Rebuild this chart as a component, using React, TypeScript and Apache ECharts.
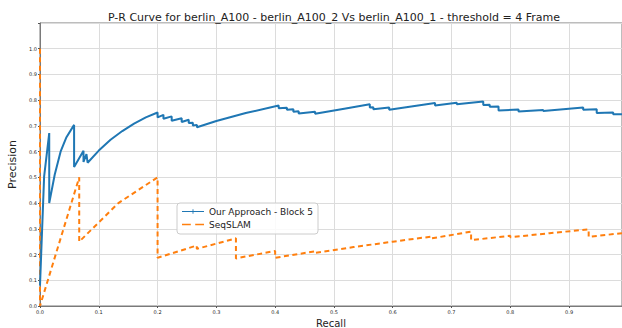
import React, { useEffect, useRef } from "react";
import * as echarts from "echarts";

const titleText = "P-R Curve for berlin_A100 - berlin_A100_2 Vs berlin_A100_1 - threshold = 4 Frame";
const seriesNames = ["Our Approach - Block 5", "SeqSLAM"];

const oursRecall = [
  0, 0.007, 0.0157, 0.0157, 0.025, 0.035, 0.045, 0.058, 0.058, 0.074, 0.074, 0.079, 0.081,
  0.1, 0.12, 0.14, 0.16, 0.18, 0.2, 0.2, 0.21, 0.21, 0.224, 0.224, 0.241, 0.241, 0.253, 0.253,
  0.26, 0.26, 0.267, 0.267, 0.3, 0.35, 0.406, 0.406, 0.42, 0.42, 0.431, 0.431, 0.44, 0.44,
  0.468, 0.468, 0.52, 0.561, 0.561, 0.567, 0.567, 0.594, 0.594, 0.672, 0.672, 0.709, 0.709,
  0.754, 0.754, 0.765, 0.765, 0.78, 0.78, 0.814, 0.814, 0.856, 0.856, 0.924, 0.924, 0.947,
  0.947, 0.975, 0.975, 0.99,
];
const oursPrecision = [
  0.08, 0.503, 0.672, 0.4, 0.51, 0.6, 0.656, 0.704, 0.54, 0.603, 0.56, 0.59, 0.557,
  0.604, 0.646, 0.68, 0.709, 0.733, 0.752, 0.733, 0.743, 0.728, 0.737, 0.72, 0.73, 0.715, 0.724, 0.711,
  0.712, 0.702, 0.704, 0.695, 0.719, 0.75, 0.779, 0.769, 0.771, 0.763, 0.765, 0.755, 0.757, 0.748,
  0.755, 0.747, 0.768, 0.784, 0.772, 0.773, 0.765, 0.772, 0.763, 0.789, 0.779, 0.79, 0.784,
  0.795, 0.781, 0.782, 0.774, 0.775, 0.76, 0.764, 0.756, 0.762, 0.758, 0.772, 0.763, 0.765,
  0.75, 0.752, 0.745, 0.745,
];

const seqRecall = [
  0, 0, 0.0667, 0.0667, 0.1333, 0.2, 0.2, 0.2667, 0.2667, 0.3333, 0.3333, 0.4, 0.4,
  0.4667, 0.4667, 0.5333, 0.6, 0.6667, 0.6667, 0.7333, 0.7333, 0.8, 0.8, 0.8667, 0.9333, 0.9333, 0.99,
];
const seqPrecision = [
  1.0, 0, 0.5, 0.25, 0.4, 0.5, 0.1875, 0.235, 0.222, 0.263, 0.185, 0.214, 0.1875,
  0.212, 0.206, 0.229, 0.25, 0.27, 0.263, 0.289, 0.256, 0.273, 0.267, 0.283, 0.298, 0.269, 0.283,
];

const yTicks = ["0.0", "0.1", "0.2", "0.3", "0.4", "0.5", "0.6", "0.7", "0.8", "0.9", "1.0"];
const xTicks = ["0.0", "0.1", "0.2", "0.3", "0.4", "0.5", "0.6", "0.7", "0.8", "0.9"];

const FONT = "DejaVu Sans";

function tickFmt(list: string[]) {
  return (v: number) => {
    const s = v.toFixed(1);
    return Math.abs(v * 10 - Math.round(v * 10)) < 1e-6 && list.includes(s) ? s : "";
  };
}

export default function App() {
  const ref = useRef<HTMLDivElement>(null);
  useEffect(() => {
    if (!ref.current) return;
    const chart = echarts.init(ref.current, undefined, { renderer: "svg" });
    const ours = oursRecall.map((r, i) => [r, oursPrecision[i]]);
    const seq = seqRecall.map((r, i) => [r, seqPrecision[i]]);
    chart.setOption({
      animation: false,
      backgroundColor: "#ffffff",
      title: {
        text: titleText,
        left: 329,
        textAlign: "center",
        top: 7,
        textStyle: { fontFamily: FONT, fontSize: 11, fontWeight: "normal", color: "#222" },
      },
      grid: {
        left: 40,
        right: 0,
        top: 23,
        bottom: 22,
        show: true,
        borderColor: "#7a7a7a",
        borderWidth: 1,
        backgroundColor: "#ffffff",
        outerBoundsMode: "none",
        containLabel: false,
      },
      legend: {
        left: 177,
        top: 203,
        orient: "vertical",
        itemGap: 4,
        itemWidth: 22,
        itemHeight: 8,
        padding: [4, 5, 5, 5],
        backgroundColor: "rgba(255,255,255,0.85)",
        borderColor: "#cccccc",
        borderWidth: 1,
        borderRadius: 3,
        textStyle: { fontFamily: FONT, fontSize: 9, color: "#222" },
        data: [
          {
            name: seriesNames[0],
            icon: "path://M0,3.4L30,3.4L30,4.6L0,4.6Z M14.4,1L15.6,1L15.6,7L14.4,7Z",
          },
          {
            name: seriesNames[1],
            icon: "path://M0,3L12,3L12,5L0,5Z M18,3L30,3L30,5L18,5Z",
          },
        ],
      },
      xAxis: {
        type: "value",
        min: 0,
        max: 0.99,
        interval: 0.1,
        name: "Recall",
        nameLocation: "middle",
        nameGap: 8,
        nameTextStyle: { fontFamily: FONT, fontSize: 10, color: "#222" },
        axisLine: { show: true, lineStyle: { color: "#7a7a7a", width: 1 } },
        axisTick: { show: true, length: 2, lineStyle: { color: "#555" } },
        axisLabel: { fontFamily: FONT, fontSize: 5, color: "#222", margin: 3, formatter: tickFmt(xTicks) },
        splitLine: { show: true, lineStyle: { color: "#dcdcdc", width: 1 } },
      },
      yAxis: {
        type: "value",
        min: 0,
        max: 1.1,
        interval: 0.1,
        name: "Precision",
        nameLocation: "middle",
        nameGap: 20,
        nameRotate: 90,
        nameTextStyle: { fontFamily: FONT, fontSize: 11, color: "#222" },
        axisLine: { show: true, lineStyle: { color: "#7a7a7a", width: 1 } },
        axisTick: { show: true, length: 2, lineStyle: { color: "#555" } },
        axisLabel: { fontFamily: FONT, fontSize: 5, color: "#222", margin: 3, formatter: tickFmt(yTicks) },
        splitLine: { show: true, lineStyle: { color: "#dcdcdc", width: 1 } },
      },
      series: [
        {
          name: seriesNames[0],
          type: "line",
          data: ours,
          symbol: "none",
          color: "#1f77b4",
          lineStyle: { color: "#1f77b4", width: 2 },
          z: 3,
        },
        {
          name: seriesNames[1],
          type: "line",
          data: seq,
          symbol: "none",
          color: "#ff7f0e",
          lineStyle: { color: "#ff7f0e", width: 2, type: [5, 3.5] },
          z: 2,
        },
      ],
    });
    return () => chart.dispose();
  }, []);
  return (
    <div
      ref={ref}
      style={{ position: "fixed", left: 0, top: 0, width: 622, height: 328 }}
    />
  );
}
